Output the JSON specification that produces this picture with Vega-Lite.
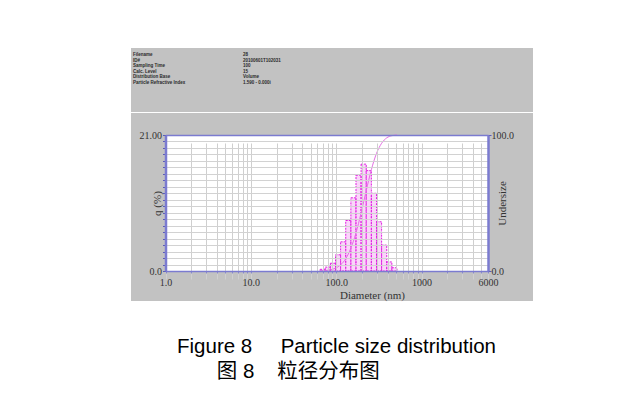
{
  "$schema": "https://vega.github.io/schema/vega-lite/v6.json",
  "padding": {"left": 131, "top": 48, "right": 0, "bottom": 0},
  "background": "white",
  "config": {"view": {"stroke": null}},
  "spacing": 1,
  "title": {
    "text": ["Figure 8\u00a0\u00a0\u00a0\u00a0\u00a0Particle size distribution", "\u200b\u00a0\u00a0\u00a0\u00a0\u00a0\u00a0\u00a0图\u00a08\u00a0\u00a0\u00a0\u00a0粒径分布图"],
    "orient": "bottom", "anchor": "start", "frame": "group", "dx": 46, "offset": 36,
    "font": "Liberation Sans, Noto Sans CJK SC", "fontSize": 20.5, "fontWeight": "normal", "color": "#000000", "lineHeight": 25
  },
  "datasets": {
    "header": [
      {"row": 1, "column": "name", "text": "Filename"},
      {"row": 1, "column": "value", "text": "28"},
      {"row": 2, "column": "name", "text": "ID#"},
      {"row": 2, "column": "value", "text": "20100601T102031"},
      {"row": 3, "column": "name", "text": "Sampling Time"},
      {"row": 3, "column": "value", "text": "100"},
      {"row": 4, "column": "name", "text": "Calc. Level"},
      {"row": 4, "column": "value", "text": "15"},
      {"row": 5, "column": "name", "text": "Distribution Base"},
      {"row": 5, "column": "value", "text": "Volume"},
      {"row": 6, "column": "name", "text": "Particle Refractive Index"},
      {"row": 6, "column": "value", "text": "1.590 - 0.000i"}
    ],
    "psd": [
      {"d_lo": 64.8, "d_hi": 74.4, "q": 0.26},
      {"d_lo": 74.4, "d_hi": 85.4, "q": 0.6},
      {"d_lo": 85.4, "d_hi": 98.1, "q": 1.2},
      {"d_lo": 98.1, "d_hi": 112.6, "q": 2.5},
      {"d_lo": 112.6, "d_hi": 129.3, "q": 4.5},
      {"d_lo": 129.3, "d_hi": 148.5, "q": 7.8},
      {"d_lo": 148.5, "d_hi": 170.5, "q": 11.3},
      {"d_lo": 170.5, "d_hi": 195.7, "q": 14.8},
      {"d_lo": 195.7, "d_hi": 224.7, "q": 16.5},
      {"d_lo": 224.7, "d_hi": 258.0, "q": 15.5},
      {"d_lo": 258.0, "d_hi": 296.3, "q": 12.0},
      {"d_lo": 296.3, "d_hi": 340.2, "q": 7.6},
      {"d_lo": 340.2, "d_hi": 390.6, "q": 4.0},
      {"d_lo": 390.6, "d_hi": 448.5, "q": 1.4},
      {"d_lo": 448.5, "d_hi": 515.0, "q": 0.5}
    ],
    "cum": [
      {"d": 64.8, "undersize": 0},
      {"d": 74.4, "undersize": 0.3},
      {"d": 85.4, "undersize": 0.9},
      {"d": 98.1, "undersize": 2.1},
      {"d": 112.6, "undersize": 4.5},
      {"d": 129.3, "undersize": 9.0},
      {"d": 148.5, "undersize": 16.8},
      {"d": 170.5, "undersize": 28.0},
      {"d": 195.7, "undersize": 42.7},
      {"d": 224.7, "undersize": 59.1},
      {"d": 258.0, "undersize": 74.5},
      {"d": 296.3, "undersize": 86.4},
      {"d": 340.2, "undersize": 93.9},
      {"d": 390.6, "undersize": 97.9},
      {"d": 448.5, "undersize": 99.5},
      {"d": 515.0, "undersize": 100}
    ]
  },
  "vconcat": [
    {
      "width": 402,
      "height": 64,
      "view": {"fill": "#c2c2c2", "stroke": null},
      "data": {"name": "header"},
      "mark": {"type": "text", "align": "left", "baseline": "middle", "fontSize": 4.5, "font": "Liberation Sans", "fontWeight": "bold", "color": "#2a2a2a"},
      "encoding": {
        "x": {"field": "column", "type": "nominal", "scale": {"domain": ["name", "value"], "range": [2, 112], "padding": 0}, "axis": null},
        "y": {"field": "row", "type": "ordinal", "scale": {"range": [7, 35], "padding": 0}, "axis": null},
        "text": {"field": "text"}
      }
    },
    {
      "width": 402,
      "height": 188,
      "view": {"fill": "#c2c2c2", "stroke": null},
      "resolve": {"scale": {"y": "independent"}, "axis": {"x": "independent", "y": "independent"}},
      "layer": [
        {
          "data": {"values": [{}]},
          "mark": {"type": "rect", "fill": "white", "stroke": null},
          "encoding": {
            "x": {"datum": 1, "type": "quantitative", "scale": {"type": "log", "domain": [1, 6000], "range": [34.5, 357], "nice": false},
              "axis": {"orient": "top", "offset": -22, "labels": false, "ticks": false, "grid": false, "title": null, "domainColor": "#7b7bd0", "domainWidth": 1.5, "zindex": 1}},
            "x2": {"datum": 6000},
            "y": {"datum": 0, "type": "quantitative", "scale": {"domain": [0, 21], "range": [158, 22], "nice": false, "zero": false}, "axis": null},
            "y2": {"datum": 21}
          }
        },
        {
          "data": {"name": "psd"},
          "mark": {"type": "rect", "fill": "#f6b3f6", "fillOpacity": 0.55, "stroke": "#e01ee0", "strokeWidth": 1, "strokeDash": [2, 1]},
          "encoding": {
            "x": {"field": "d_lo", "type": "quantitative", "scale": {"type": "log", "domain": [1, 6000], "range": [34.5, 357], "nice": false},
              "axis": {"orient": "bottom", "offset": -30,
                "values": [1, 2, 3, 4, 5, 6, 7, 8, 9, 10, 20, 30, 40, 50, 60, 70, 80, 90, 100, 200, 300, 400, 500, 600, 700, 800, 900, 1000, 2000, 3000, 4000, 5000, 6000],
                "labelExpr": "datum.value==1?'1.0':datum.value==10?'10.0':datum.value==100?'100.0':datum.value==1000?'1000':datum.value==6000?'6000':''",
                "labelFlush": false, "labelOverlap": false, "labelFont": "Liberation Serif", "labelFontSize": 10, "labelColor": "#333333", "labelPadding": 4,
                "tickSize": 2, "tickColor": "#8888cc", "grid": true, "gridColor": "#cfcfcf", "gridWidth": 1,
                "domainColor": "#7b7bd0", "domainWidth": 1.5,
                "title": "Diameter (nm)", "titleFont": "Liberation Serif", "titleFontSize": 11, "titleFontWeight": "normal", "titleColor": "#333333",
                "titleX": 241, "titleY": 24, "titleBaseline": "middle", "zindex": 1}},
            "x2": {"field": "d_hi"},
            "y": {"field": "q", "type": "quantitative", "scale": {"domain": [0, 21], "range": [158, 22], "nice": false, "zero": false},
              "axis": {"orient": "left", "offset": -34.5,
                "values": [0, 1, 2, 3, 4, 5, 6, 7, 8, 9, 10, 11, 12, 13, 14, 15, 16, 17, 18, 19, 20, 21],
                "labelExpr": "datum.value==21?'21.00':datum.value==0?'0.0':''",
                "labelOverlap": false, "labelFont": "Liberation Serif", "labelFontSize": 10, "labelColor": "#333333", "labelPadding": 1,
                "tickSize": 3, "tickColor": "#5a5ab8", "grid": true, "gridColor": "#d2d2d2", "gridWidth": 1,
                "domainColor": "#7b7bd0", "domainWidth": 2.5,
                "title": "q (%)", "titleFont": "Liberation Serif", "titleFontSize": 11, "titleFontWeight": "normal", "titleColor": "#333333",
                "titleX": -8, "titleY": 90, "titleAngle": -90, "titleBaseline": "middle", "zindex": 1}},
            "y2": {"datum": 0}
          }
        },
        {
          "data": {"name": "cum"},
          "mark": {"type": "line", "color": "#e46ee4", "strokeWidth": 1, "interpolate": "monotone"},
          "encoding": {
            "x": {"field": "d", "type": "quantitative", "scale": {"type": "log", "domain": [1, 6000], "range": [34.5, 357], "nice": false}, "axis": null},
            "y": {"field": "undersize", "type": "quantitative", "scale": {"domain": [0, 100], "range": [158, 22], "nice": false, "zero": false},
              "axis": {"orient": "right", "offset": -45, "values": [0, 100], "format": ".1f",
                "labelFont": "Liberation Serif", "labelFontSize": 10, "labelColor": "#333333", "labelPadding": 0,
                "tickSize": 3, "tickColor": "#5a5ab8", "grid": false,
                "domainColor": "#7b7bd0", "domainWidth": 2.5,
                "title": "Undersize", "titleFont": "Liberation Serif", "titleFontSize": 11, "titleFontWeight": "normal", "titleColor": "#333333",
                "titleX": 14, "titleY": 90, "titleAngle": -90, "titleBaseline": "middle", "zindex": 1}}
          }
        }
      ]
    }
  ]
}
